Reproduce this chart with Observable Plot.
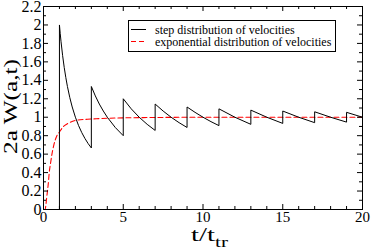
<!DOCTYPE html>
<html>
<head>
<meta charset="utf-8">
<script src="https://cdn.jsdelivr.net/npm/d3@7"></script>
<script src="https://cdn.jsdelivr.net/npm/@observablehq/plot@0.6"></script>
<style>
  html, body { margin: 0; padding: 0; background: white; }
  svg { display: block; }
  svg text { font-family: "Liberation Serif", "DejaVu Serif", serif !important; }
</style>
</head>
<body>
<div id="chart"></div>
<script>
// ---- data ----
const stepT = [0, 1, 1,
  1.05, 1.1, 1.2, 1.3, 1.4, 1.5, 1.65, 1.8, 2, 2.2, 2.4, 2.6, 2.8, 3,
  3, 3.25, 3.5, 3.75, 4, 4.5, 5,
  5, 5.5, 6, 6.5, 7,
  7, 7.5, 8, 8.5, 9,
  9, 9.5, 10, 10.5, 11,
  11, 12, 13,
  13, 14, 15,
  15, 16, 17,
  17, 18, 19,
  19, 20];
const stepW = [0, 0, 2,
  1.905, 1.818, 1.667, 1.538, 1.429, 1.333, 1.212, 1.111, 1.0, 0.909, 0.833, 0.769, 0.714, 0.667,
  1.333, 1.231, 1.143, 1.067, 1.0, 0.889, 0.8,
  1.2, 1.091, 1.0, 0.923, 0.857,
  1.143, 1.067, 1.0, 0.941, 0.889,
  1.111, 1.053, 1.0, 0.952, 0.909,
  1.091, 1.0, 0.923,
  1.077, 1.0, 0.933,
  1.067, 1.0, 0.941,
  1.059, 1.0, 0.947,
  1.053, 1.0];

const expT = [0, 0.1, 0.15, 0.2, 0.25, 0.3, 0.36, 0.45, 0.53, 0.65, 0.84, 1.0, 1.25, 1.5, 2, 2.75, 3.5, 5, 7, 10, 20];
const expW = [0, 0, 0.05, 0.13, 0.2, 0.28, 0.4, 0.51, 0.6, 0.7, 0.8, 0.84, 0.9, 0.93, 0.965, 0.978, 0.985, 0.993, 0.997, 1.0, 1.0];

const seriesNames = ["step distribution of velocities", "exponential distribution of velocities"];
const seriesColors = ["black", "red"];
const seriesDash = ["none", "5,3"];

const xMajor = [0, 5, 10, 15, 20];
const xMinor = [1, 2, 3, 4, 6, 7, 8, 9, 11, 12, 13, 14, 16, 17, 18, 19];
const yMajor = [0, 0.2, 0.4, 0.6, 0.8, 1, 1.2, 1.4, 1.6, 1.8, 2, 2.2];
const yMinor = [0.1, 0.3, 0.5, 0.7, 0.9, 1.1, 1.3, 1.5, 1.7, 1.9, 2.1];
const yTickLabels = ["0", "0.2", "0.4", "0.6", "0.8", "1", "1.2", "1.4", "1.6", "1.8", "2", "2.2"];
const xLabelMain = "t/t";
const xLabelSub = "tr";
const yLabel = "2a W(a,t)";

// ---- layout ----
const W = 371, H = 250, mL = 43, mR = 9, mT = 6, mB = 41;
const pw = W - mL - mR, ph = H - mT - mB;
const font = "Liberation Serif, DejaVu Serif, serif";

const step = stepT.map((t, i) => ({t, w: stepW[i]}));
const expo = expT.map((t, i) => ({t, w: expW[i]}));

const chart = Plot.plot({
  width: W, height: H,
  marginLeft: mL, marginRight: mR, marginTop: mT, marginBottom: mB,
  style: {fontFamily: font, fontSize: "15px", background: "white", color: "black", overflow: "visible"},
  x: {domain: [0, 20]},
  y: {domain: [0, 2.2]},
  marks: [
    Plot.line(expo, {x: "t", y: "w", stroke: seriesColors[1], strokeDasharray: seriesDash[1], strokeWidth: 1.1, curve: "monotone-x"}),
    Plot.line(step, {x: "t", y: "w", stroke: seriesColors[0], strokeWidth: 1}),
    // inward ticks, bottom/top
    Plot.tickX(xMajor, {x: d => d, insetTop: ph - 5, stroke: "black"}),
    Plot.tickX(xMajor, {x: d => d, insetBottom: ph - 5, stroke: "black"}),
    Plot.tickX(xMinor, {x: d => d, insetTop: ph - 3, stroke: "black"}),
    Plot.tickX(xMinor, {x: d => d, insetBottom: ph - 3, stroke: "black"}),
    // inward ticks, left/right
    Plot.tickY(yMajor, {y: d => d, insetRight: pw - 5, stroke: "black"}),
    Plot.tickY(yMajor, {y: d => d, insetLeft: pw - 5, stroke: "black"}),
    Plot.tickY(yMinor, {y: d => d, insetRight: pw - 3, stroke: "black"}),
    Plot.tickY(yMinor, {y: d => d, insetLeft: pw - 3, stroke: "black"}),
    Plot.frame({stroke: "black", strokeWidth: 1}),
    Plot.axisX(xMajor, {tickSize: 0, tickPadding: 2, label: null, fontSize: 15}),
    Plot.axisY(yMajor, {tickSize: 0, tickPadding: 2, label: null, fontSize: 16,
      tickFormat: d => yTickLabels[yMajor.indexOf(d)]})
  ]
});
document.getElementById("chart").append(chart);

// ---- axis labels and legend ----
const svg = d3.select(chart);
const xl = svg.append("text")
  .attr("x", 191).attr("y", 241)
  .attr("text-anchor", "start")
  .attr("font-family", font).attr("font-size", 19).attr("fill", "black");
xl.append("tspan").attr("textLength", 24).attr("lengthAdjust", "spacingAndGlyphs").text(xLabelMain);
xl.append("tspan").attr("font-size", 14).attr("dy", 6)
  .attr("textLength", 13).attr("lengthAdjust", "spacingAndGlyphs").text(xLabelSub);

svg.append("text")
  .attr("transform", `translate(17,${mT + ph / 2 - 1}) rotate(-90)`)
  .attr("text-anchor", "middle")
  .attr("font-family", font).attr("font-size", 18).attr("fill", "black")
  .attr("textLength", 95).attr("lengthAdjust", "spacingAndGlyphs")
  .text(yLabel);

const lg = svg.append("g");
lg.append("rect").attr("x", 128.5).attr("y", 20.5).attr("width", 207).attr("height", 31)
  .attr("fill", "white").attr("stroke", "black");
seriesNames.forEach((name, i) => {
  const cy = 29.5 + i * 12;
  lg.append("line").attr("x1", 131).attr("x2", 146).attr("y1", cy).attr("y2", cy)
    .attr("stroke", seriesColors[i]).attr("stroke-dasharray", seriesDash[i]).attr("stroke-width", 1);
  lg.append("text").attr("x", 155).attr("y", cy).attr("dy", "0.35em")
    .attr("text-anchor", "start")
    .attr("font-family", font).attr("font-size", 12).attr("fill", "black").text(name);
});
</script>
</body>
</html>
